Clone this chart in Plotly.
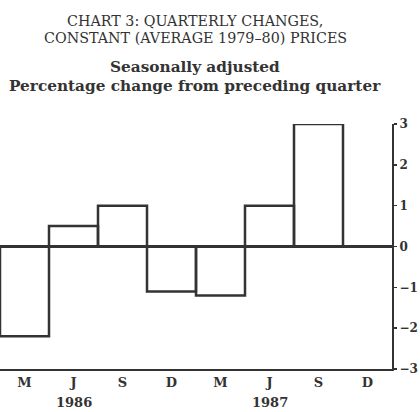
import plotly.graph_objects as go

quarters = ["M", "J", "S", "D", "M", "J", "S", "D"]
years = ["1986", "1987"]
year_pos = [1, 5]
values = [-2.2, 0.5, 1.0, -1.1, -1.2, 1.0, 3.0, None]
y_ticks = [-3, -2, -1, 0, 1, 2, 3]
y_tick_text = ["\u22123", "\u22122", "\u22121", "0", "1", "2", "3"]

INK = "#333333"
SERIF_REG = "DejaVu Serif, serif"
SERIF_BOLD = "DejaVu Serif, serif"

x = list(range(len(quarters)))

fig = go.Figure()
fig.add_trace(go.Bar(
    x=x, y=values,
    marker=dict(color="rgba(255,255,255,0)", line=dict(color=INK, width=2.5)),
    width=1.0,
    hoverinfo="skip",
))

PLOT_TOP = 124
PLOT_BOT = 369
H = PLOT_BOT - PLOT_TOP


def py(ypx):
    return (PLOT_BOT - ypx) / H


annots = [
    dict(text="CHART 3: QUARTERLY CHANGES,", y=py(21), size=14.3, fam=SERIF_REG),
    dict(text="CONSTANT (AVERAGE 1979\u201380) PRICES", y=py(38), size=14.3, fam=SERIF_REG),
    dict(text="<b>Seasonally adjusted</b>", y=py(67), size=15.3, fam=SERIF_BOLD),
    dict(text="<b>Percentage change from preceding quarter</b>", y=py(86), size=15.3, fam=SERIF_BOLD),
]
annotations = []
for a in annots:
    annotations.append(dict(
        text=a["text"], xref="paper", yref="paper", x=195 / 392, y=a["y"],
        xanchor="center", yanchor="middle", showarrow=False,
        font=dict(family=a["fam"], size=a["size"], color=INK),
    ))
for yr, p in zip(years, year_pos):
    annotations.append(dict(
        text="<b>" + yr + "</b>", xref="x", yref="paper", x=p, y=py(402),
        xanchor="center", yanchor="middle", showarrow=False,
        font=dict(family=SERIF_BOLD, size=13, color=INK),
    ))

fig.update_layout(
    width=420, height=412,
    margin=dict(l=0, r=28, t=PLOT_TOP, b=412 - PLOT_BOT, autoexpand=False),
    paper_bgcolor="white", plot_bgcolor="white",
    showlegend=False,
    bargap=0,
    annotations=annotations,
    xaxis=dict(
        range=[-0.5, 7.5], tickmode="array", tickvals=x,
        ticktext=["<b>" + q + "</b>" for q in quarters],
        showgrid=False, zeroline=False, showline=True, linecolor=INK, linewidth=2,
        ticks="", tickfont=dict(family=SERIF_BOLD, size=13, color=INK),
        fixedrange=True,
    ),
    yaxis=dict(
        range=[-3, 3], side="right", tickmode="array", tickvals=y_ticks,
        ticktext=["<b>" + t + "</b>" for t in y_tick_text],
        showgrid=False, zeroline=True, zerolinecolor=INK, zerolinewidth=2.5,
        showline=True, linecolor=INK, linewidth=2, mirror=False,
        ticks="outside", ticklen=3, tickcolor=INK, tickwidth=1.5,
        tickfont=dict(family=SERIF_BOLD, size=12, color=INK),
        fixedrange=True,
    ),
)

fig.write_html(
    "out.html",
    config={"displayModeBar": False, "staticPlot": True},
    post_script="document.body.style.margin='0';document.body.style.padding='0';",
)
